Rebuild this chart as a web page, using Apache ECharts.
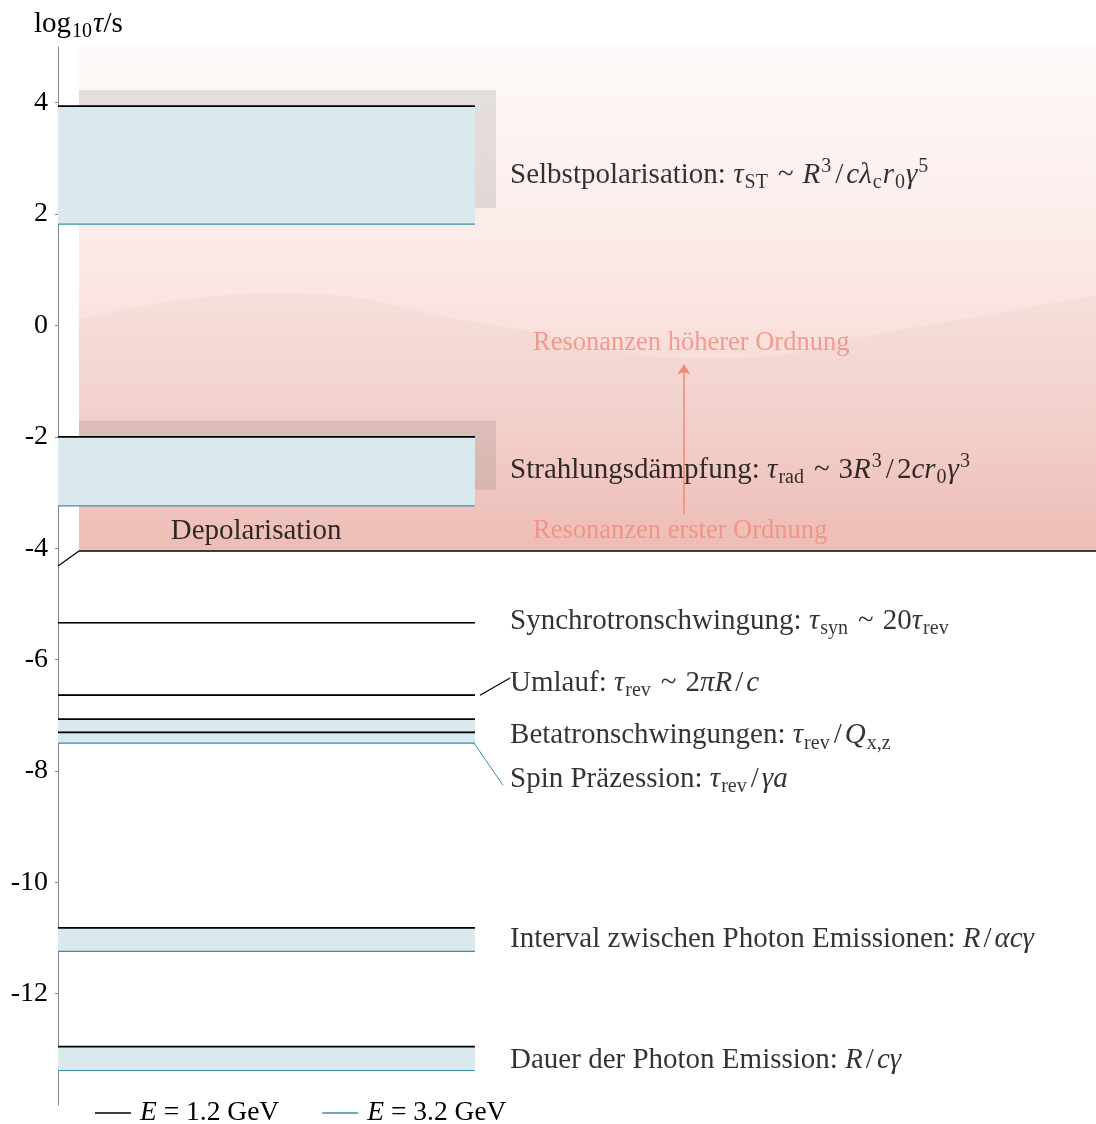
<!DOCTYPE html>
<html><head><meta charset="utf-8">
<script src="https://cdn.jsdelivr.net/npm/echarts@6/dist/echarts.min.js"></script>
<style>html,body{margin:0;padding:0;background:#fff}#c{width:1096px;height:1124px}</style>
</head><body><div id="c"></div>
<script>
// ---------------- data ----------------
const processes = ['Selbstpolarisation','Strahlungsdämpfung','Synchrotronschwingung','Umlauf',
  'Betatronschwingungen','Spin Präzession','Interval zwischen Photon Emissionen','Dauer der Photon Emission'];
// log10(tau/s) for E = 1.2 GeV and E = 3.2 GeV
const tauE12 = [3.94, -2.00, -5.34, -6.64, -7.31, -7.07, -10.82, -12.95];
const tauE32 = [1.82, -3.24, -5.34, -6.64, -7.31, -7.50, -11.24, -13.38];
// vertical position (log10 tau) of each text label
const labelTau = [2.70, -2.60, -5.31, -6.42, -7.36, -8.15, -11.02, -13.19];
const labelTexts = [
  'Selbstpolarisation: {i|τ}{sb|ST}{r|~}{i|R}{sp|3}{sl|/}{i|cλ}{sb|c}{i|r}{sb|0}{i|γ}{sp|5}',
  'Strahlungsdämpfung: {i|τ}{sb|rad}{r|~}3{i|R}{sp|3}{sl|/}2{i|cr}{sb|0}{i|γ}{sp|3}',
  'Synchrotronschwingung: {i|τ}{sb|syn}{r|~}20{i|τ}{sb|rev}',
  'Umlauf: {i|τ}{sb|rev}{r|~}2{i|πR}{sl|/}{i|c}',
  'Betatronschwingungen: {i|τ}{sb|rev}{sl|/}{i|Q}{sb|x,z}',
  'Spin Präzession: {i|τ}{sb|rev}{sl|/}{i|γa}',
  'Interval zwischen Photon Emissionen: {i|R}{sl|/}{i|αcγ}',
  'Dauer der Photon Emission: {i|R}{sl|/}{i|cγ}'
];
const depolRange = [-4.05, 5];          // Depolarisation region (log10 tau)
const waveX   = [0.02, 0.21, 0.42, 0.63, 0.82, 1.00];
const waveTau = [0.10, 0.58, 0.00, -0.60, -0.05, 0.54];
const arrowTau = [-3.39, -0.70];        // resonance arrow from / to
const annoTexts = ['Depolarisation', 'Resonanzen höherer Ordnung', 'Resonanzen erster Ordnung'];
const annoTau = [-3.69, -0.32, -3.69];
const legendNames = ['E = 1.2 GeV', 'E = 3.2 GeV'];
const yMin = -14, yMax = 5, yStep = 2;

// ---------------- layout / style ----------------
const FONT = "'Liberation Serif', 'DejaVu Serif', serif";
const FS = 29, FS_SUB = 20, FS_TICK = 28, FS_LEG = 27.5, FS_RES = 26.5;
const BAND_END = 0.4017;     // x fraction of band right end
const LABEL_X = 0.4355;      // x fraction of labels
const SHADOW_DX = 21, SHADOW_DY = -16;
const annoX = [0.1908, 0.4576, 0.4576];
const ARROW_X = 0.603;
const BLACK = '#000000', TEAL = '#3d8ea6', FILL = '#d9e9ee', SALMON = '#f0897a';
const leaders = {3: 'e12', 5: 'e32'};

const base = {fontFamily: FONT, fontSize: FS, color: '#000', fontWeight: 'normal', lineHeight: 36};
const rich = {
  i:  Object.assign({}, base, {fontStyle: 'italic'}),
  r:  Object.assign({}, base, {padding: [0, 9, 0, 9]}),
  sl: Object.assign({}, base, {padding: [0, 3, 0, 3]}),
  sb: {fontFamily: FONT, fontSize: FS_SUB, color: '#000', verticalAlign: 'bottom', lineHeight: 20, padding: [0, 1, 0, 1]},
  sp: {fontFamily: FONT, fontSize: FS_SUB, color: '#000', verticalAlign: 'top', lineHeight: 20, padding: [0, 1, 0, 1]}
};

const bandData = processes.map((p, i) => [i, tauE12[i], tauE32[i]]);

function layer(kind, z) {
  return {
    type: 'custom', z: z, silent: true, clip: false,
    data: bandData,
    encode: {x: -1, y: [1, 2]},
    renderItem: function (params, api) {
      const idx = api.value(0);
      const a = api.value(1), b = api.value(2);
      const cs = params.coordSys;
      const x0 = cs.x;
      const pa = api.coord([BAND_END, a]);
      const pb = api.coord([BAND_END, b]);
      const x1 = pa[0];
      const children = [];
      if (kind === 'shadow') {
        if (a > depolRange[0] && b > depolRange[0]) {
          children.push({type: 'rect', shape: {x: x0 + SHADOW_DX, y: pa[1] + SHADOW_DY, width: x1 - x0, height: pb[1] - pa[1]},
            style: {fill: 'rgba(90,90,90,0.15)'}});
        }
      } else if (kind === 'fill') {
        children.push({type: 'rect', shape: {x: x0, y: pa[1], width: x1 - x0, height: pb[1] - pa[1]}, style: {fill: FILL}});
      } else if (kind === 'e32') {
        children.push({type: 'line', shape: {x1: x0, y1: pb[1], x2: x1, y2: pb[1]}, style: {stroke: TEAL, lineWidth: 1.2}});
        if (leaders[idx] === 'e32') {
          const pl = api.coord([LABEL_X, labelTau[idx]]);
          children.push({type: 'line', shape: {x1: x1 - 1, y1: pb[1], x2: pl[0] - 7, y2: pl[1] + 6}, style: {stroke: TEAL, lineWidth: 1}});
        }
      } else if (kind === 'e12') {
        children.push({type: 'line', shape: {x1: x0, y1: pa[1], x2: x1, y2: pa[1]}, style: {stroke: BLACK, lineWidth: 1.7}});
        if (leaders[idx] === 'e12') {
          const pl = api.coord([LABEL_X, labelTau[idx]]);
          children.push({type: 'line', shape: {x1: x1 + 5, y1: pa[1], x2: pl[0], y2: pl[1] - 5}, style: {stroke: BLACK, lineWidth: 1.2}});
        }
      }
      return {type: 'group', children: children};
    }
  };
}

const chart = echarts.init(document.getElementById('c'), null, {renderer: 'canvas'});
const option = {
  animation: false,
  backgroundColor: '#ffffff',
  title: {
    text: '{n|log}{s|10}{i|τ}{n|/s}', left: 34, top: 6, padding: 0,
    textStyle: {fontWeight: 'normal', rich: {
      n: base,
      s: {fontFamily: FONT, fontSize: FS_SUB, color: '#000', fontWeight: 'normal', verticalAlign: 'bottom', lineHeight: 20, padding: [0, 1, 0, 1]},
      i: Object.assign({}, base, {fontStyle: 'italic'})
    }}
  },
  legend: {
    left: 95, top: 1099, padding: 0, itemGap: 43, itemWidth: 36, itemHeight: 1.4,
    icon: 'rect',
    data: ['E12', 'E32'],
    formatter: n => (n === 'E12' ? legendNames[0] : legendNames[1]).replace('E', '{i|E}'),
    textStyle: {fontFamily: FONT, fontSize: FS_LEG, color: '#000', padding: [0, 0, 0, 4],
      rich: {i: {fontFamily: FONT, fontSize: FS_LEG, fontStyle: 'italic', color: '#000'}}}
  },
  grid: {left: 58, right: 0, top: 47, bottom: 19},
  xAxis: {type: 'value', min: 0, max: 1, show: false},
  yAxis: {
    type: 'value', min: yMin, max: yMax, interval: yStep,
    axisLine: {show: true, lineStyle: {color: '#888', width: 1}},
    axisTick: {show: true, length: 3, lineStyle: {color: '#888'}},
    splitLine: {show: false},
    axisLabel: {fontFamily: FONT, fontSize: FS_TICK, color: '#000', margin: 10, showMinLabel: false, showMaxLabel: false}
  },
  series: [
    { // Depolarisation region
      type: 'custom', z: 0, silent: true, clip: false,
      data: [[depolRange[0], depolRange[1]]],
      encode: {x: -1, y: [0, 1]},
      renderItem: function (params, api) {
        const cs = params.coordSys;
        const top = api.coord([0, api.value(1)])[1];
        const bot = api.coord([0, api.value(0)])[1];
        const xl = cs.x + SHADOW_DX, xr = cs.x + cs.width;
        return {type: 'group', children: [
          {type: 'rect', shape: {x: xl, y: top, width: xr - xl, height: bot - top},
           style: {fill: new echarts.graphic.LinearGradient(0, 0, 0, 1, [
             {offset: 0, color: '#fdf9f8'}, {offset: 0.25, color: '#fcf1ef'},
             {offset: 0.5, color: '#fae5e2'}, {offset: 0.75, color: '#f6d5d0'},
             {offset: 1, color: '#f2c1ba'}])}},
          {type: 'line', z2: 10, shape: {x1: xl, y1: bot, x2: xr, y2: bot}, style: {stroke: '#000', lineWidth: 1.4}},
          {type: 'line', z2: 10, shape: {x1: cs.x, y1: bot + 15, x2: xl, y2: bot}, style: {stroke: '#000', lineWidth: 1.2}}
        ]};
      }
    },
    { // wave
      type: 'line', z: 1, silent: true, smooth: true, symbol: 'none',
      data: waveX.map((x, i) => [x, waveTau[i]]),
      lineStyle: {width: 0, opacity: 0},
      areaStyle: {color: 'rgba(180,110,105,0.07)', origin: depolRange[0]}
    },
    layer('shadow', 2),
    layer('fill', 3),
    layer('e32', 4),
    layer('e12', 5),
    { // arrow
      type: 'lines', coordinateSystem: 'cartesian2d', z: 6, silent: true,
      data: [{coords: [[ARROW_X, arrowTau[0]], [ARROW_X, arrowTau[1]]]}],
      symbol: ['none', 'arrow'], symbolSize: 10,
      lineStyle: {color: SALMON, width: 1.5, opacity: 1, curveness: 0}
    },
    { // process labels
      type: 'scatter', z: 7, silent: true, symbolSize: 0,
      data: labelTau.map(t => [LABEL_X, t]),
      label: Object.assign({show: true, position: 'right', distance: 0,
        formatter: p => labelTexts[p.dataIndex], rich: rich}, base)
    },
    { // annotations
      type: 'scatter', z: 7, silent: true, symbolSize: 0,
      data: annoTexts.map((t, i) => ({
        value: [annoX[i], annoTau[i]],
        label: i === 0
          ? {position: 'inside', color: '#000', fontSize: FS}
          : {position: 'right', distance: 0, color: SALMON, fontSize: FS_RES}
      })),
      label: {show: true, formatter: p => annoTexts[p.dataIndex], fontFamily: FONT}
    },
    {name: 'E12', type: 'line', data: [], symbol: 'none', itemStyle: {color: BLACK}, lineStyle: {color: BLACK, width: 1}},
    {name: 'E32', type: 'line', data: [], symbol: 'none', itemStyle: {color: TEAL}, lineStyle: {color: TEAL, width: 1}}
  ]
};
chart.setOption(option);
</script>
</body></html>
